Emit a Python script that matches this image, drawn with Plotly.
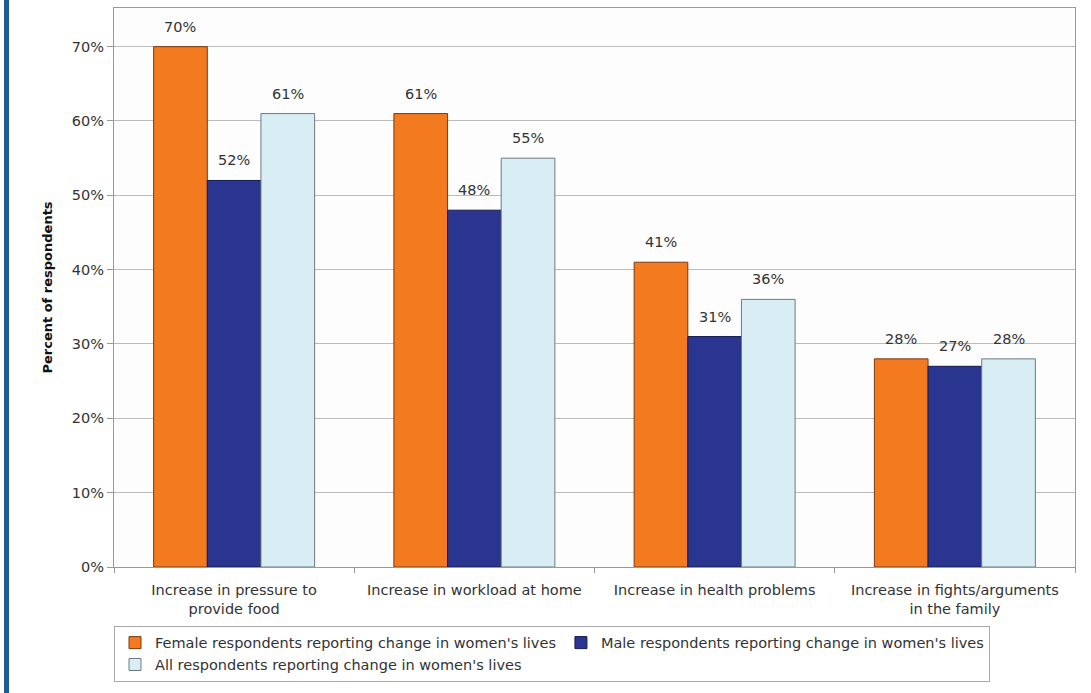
import plotly.graph_objects as go

categories = [
    "Increase in pressure to<br>provide food",
    "Increase in workload at home",
    "Increase in health problems",
    "Increase in fights/arguments<br>in the family",
]
female = [70, 61, 41, 28]
male = [52, 48, 31, 27]
all_resp = [61, 55, 36, 28]

series_names = [
    "Female respondents reporting change in women's lives",
    "Male respondents reporting change in women's lives",
    "All respondents reporting change in women's lives",
]
series_values = [female, male, all_resp]
fill_colors = ["#F37A1F", "#2A3590", "#D8EDF4"]
edge_colors = ["#7A3A10", "#141A50", "#6F7A80"]

W, H = 1091, 693
ML, MR, MT, MB = 114, 16, 8, 126
FONT = "DejaVu Sans, Verdana, sans-serif"
TXT = "#333333"
BARGAP = 0.33

fig = go.Figure()
for name, vals, fc, ec in zip(series_names, series_values, fill_colors, edge_colors):
    fig.add_trace(go.Bar(
        x=categories,
        y=[v / 100 for v in vals],
        name=name,
        marker=dict(color=fc, line=dict(color=ec, width=1)),
    ))

pw = W - ML - MR
ph = H - MT - MB

# value labels above each bar, offset sideways by one bar width per series
bar_px = pw / len(categories) * (1 - BARGAP) / len(series_values)
annotations = []
for i, vals in enumerate(series_values):
    offset = (i - (len(series_values) - 1) / 2) * bar_px
    for cat, v in zip(categories, vals):
        annotations.append(dict(
            x=cat, y=v / 100, xref="x", yref="y",
            text=f"{v}%", showarrow=False,
            xanchor="center", yanchor="bottom",
            xshift=offset, yshift=10,
            font=dict(size=14.5, color=TXT, family=FONT),
        ))

fig.update_layout(
    width=W, height=H,
    margin=dict(l=ML, r=MR, t=MT, b=MB),
    paper_bgcolor="white",
    plot_bgcolor="#FDFDFD",
    barmode="group",
    bargap=BARGAP,
    bargroupgap=0,
    font=dict(family=FONT, size=14.5, color=TXT),
    showlegend=True,
    legend=dict(
        orientation="h",
        x=0, xanchor="left",
        y=-0.105, yanchor="top",
        bordercolor="#AAAAAA", borderwidth=1,
        bgcolor="white",
        font=dict(size=14.5, color=TXT, family=FONT),
        tracegroupgap=0,
        itemwidth=30,
    ),
    xaxis=dict(
        showgrid=False,
        showline=True, linecolor="#999999", linewidth=1, mirror=True,
        ticks="outside", tickson="boundaries", ticklen=5, tickcolor="#999999",
        tickfont=dict(size=14.5, color=TXT),
        ticklabelstandoff=10,
    ),
    yaxis=dict(
        range=[0, 0.752],
        dtick=0.1,
        tickformat=".0%",
        showgrid=True, gridcolor="#BBBBBB", gridwidth=1,
        showline=True, linecolor="#999999", linewidth=1, mirror=True,
        ticks="outside", ticklen=6, tickcolor="#999999",
        tickfont=dict(size=14.5, color=TXT),
        zeroline=False,
        title=dict(text="<b>Percent of respondents</b>",
                   font=dict(size=13, color="#111111"), standoff=16),
    ),
    annotations=annotations,
    shapes=[
        dict(type="rect", xref="paper", yref="paper",
             x0=(4 - ML) / pw, x1=(9 - ML) / pw,
             y0=-MB / ph - 0.02, y1=1 + MT / ph + 0.02,
             fillcolor="#1F5A99", line=dict(width=0), layer="above"),
    ],
)

fig.write_html("out.html")
